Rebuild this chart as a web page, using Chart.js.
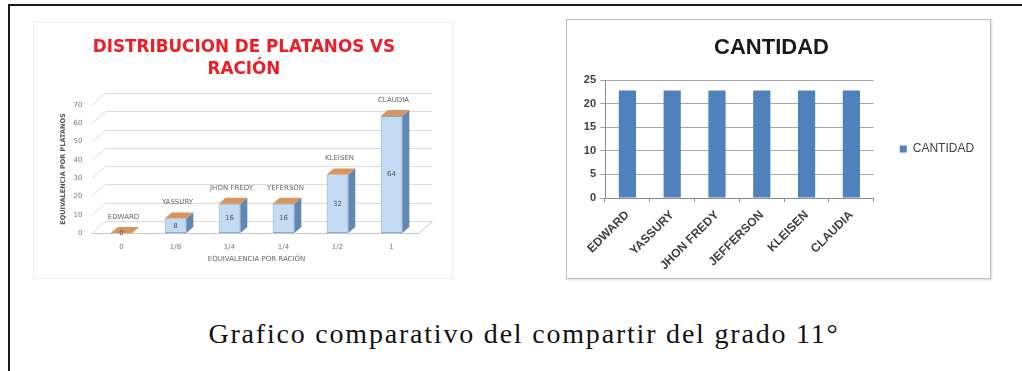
<!DOCTYPE html>
<html>
<head>
<meta charset="utf-8">
<script src="https://cdn.jsdelivr.net/npm/chart.js@4/dist/chart.umd.min.js"></script>
<style>
  html, body { margin: 0; padding: 0; background: #fff; width: 1022px; height: 371px; overflow: hidden; }
  #frame { position: absolute; left: 8px; top: 4px; width: 1100px; height: 400px;
           border-top: 2px solid #1a1a1a; border-left: 2px solid #1a1a1a; }
  #leftBox { position: absolute; left: 33px; top: 22px; width: 418px; height: 255px; border: 1px solid #eeeeee; }
  #leftWrap { position: absolute; left: 33px; top: 15px; width: 422px; height: 263px; filter: blur(0.6px); }
  #rightBox { position: absolute; left: 566px; top: 19px; width: 423px; height: 258px;
              border: 1px solid #bdbdbd; box-shadow: 1px 1px 2px rgba(0,0,0,0.15); }
  #rightWrap { position: absolute; left: 567px; top: 20px; width: 423px; height: 258px; filter: blur(0.3px); }
  canvas { display: block; }
  #caption { position: absolute; left: 0; top: 318px; width: 1048px; text-align: center;
             font-family: "Liberation Serif", serif; font-size: 28px; line-height: 32px;
             letter-spacing: 1.8px; color: #111; }
</style>
</head>
<body>
<div id="frame"></div>
<div id="leftBox"></div>
<div id="leftWrap"><canvas id="racion" width="422" height="263"></canvas></div>
<div id="rightBox"></div>
<div id="rightWrap"><canvas id="cantidad" width="423" height="258"></canvas></div>
<div id="caption">Grafico comparativo del compartir del grado 11°</div>

<script>
// Platanos por ración
const racionLabels = ['0', '1/8', '1/4', '1/4', '1/2', '1'];
const alumnos = ['EDWARD', 'YASSURY', 'JHON FREDY', 'YEFERSON', 'KLEISEN', 'CLAUDIA'];
const platanos = [0, 8, 16, 16, 32, 64];
const platanosTicks = [0, 10, 20, 30, 40, 50, 60, 70];

// Cantidad por estudiante
const nombres = ['EDWARD', 'YASSURY', 'JHON FREDY', 'JEFFERSON', 'KLEISEN', 'CLAUDIA'];
const cantidad = [22.8, 22.8, 22.8, 22.8, 22.8, 22.8];
const cantidadTicks = [0, 5, 10, 15, 20, 25];

// depth of the back wall and of each bar in the pseudo-3D chart
const WALL_DX = 14, WALL_DY = 12;
const BAR_DX = 7, BAR_DY = 6;

const smallFont = 'DejaVu Sans';

// back wall grid + floor drawn from the y scale ticks
const wall3d = {
  id: 'wall3d',
  beforeDatasetsDraw(chart) {
    const { ctx, chartArea: a, scales: { y } } = chart;
    const x0 = a.left - 3;
    ctx.save();
    ctx.lineWidth = 1;
    ctx.strokeStyle = '#dcdcdc';
    y.ticks.forEach(t => {
      const py = Math.round(y.getPixelForValue(t.value)) + 0.5;
      ctx.beginPath();
      ctx.moveTo(x0, py);
      ctx.lineTo(x0 + WALL_DX, py - WALL_DY);
      ctx.lineTo(a.right + WALL_DX, py - WALL_DY);
      ctx.stroke();
    });
    const fy = Math.round(y.getPixelForValue(0)) + 0.5;
    ctx.strokeStyle = '#c8c8c8';
    ctx.beginPath();
    ctx.moveTo(x0, fy);
    ctx.lineTo(a.right, fy);
    ctx.lineTo(a.right + WALL_DX, fy - WALL_DY);
    ctx.stroke();
    ctx.restore();
  }
};

// side/top faces and labels for each bar element
const bars3d = {
  id: 'bars3d',
  afterDatasetsDraw(chart) {
    const { ctx } = chart;
    const meta = chart.getDatasetMeta(0);
    ctx.save();
    meta.data.forEach((bar, i) => {
      const { x, y, base, width } = bar.getProps(['x', 'y', 'base', 'width'], true);
      const l = x - width / 2, r = x + width / 2;
      // side face
      ctx.fillStyle = '#6287b0';
      ctx.beginPath();
      ctx.moveTo(r, y);
      ctx.lineTo(r + BAR_DX, y - BAR_DY);
      ctx.lineTo(r + BAR_DX, base - BAR_DY);
      ctx.lineTo(r, base);
      ctx.closePath();
      ctx.fill();
      // top face
      ctx.fillStyle = '#d8955f';
      ctx.beginPath();
      ctx.moveTo(l, y);
      ctx.lineTo(l + BAR_DX, y - BAR_DY);
      ctx.lineTo(r + BAR_DX, y - BAR_DY);
      ctx.lineTo(r, y);
      ctx.closePath();
      ctx.fill();
      // value on the bar, name above it
      ctx.textAlign = 'center';
      ctx.textBaseline = 'middle';
      ctx.font = '7px "' + smallFont + '"';
      ctx.fillStyle = '#555';
      ctx.fillText(String(platanos[i]), x, (y + base) / 2);
      ctx.fillStyle = '#666';
      ctx.fillText(alumnos[i], x + 2, y - BAR_DY - 10);
    });
    ctx.restore();
  }
};

new Chart(document.getElementById('racion'), {
  type: 'bar',
  data: {
    labels: racionLabels,
    datasets: [{
      data: platanos,
      backgroundColor: '#c4dbf3',
      borderColor: '#86acd4',
      borderWidth: 1,
      borderSkipped: false,
      categoryPercentage: 0.8,
      barPercentage: 0.5
    }]
  },
  options: {
    responsive: false,
    animation: false,
    layout: { padding: { left: 36.5, right: 36.5, top: 0, bottom: 0 } },
    plugins: {
      legend: { display: false },
      tooltip: { enabled: false },
      title: {
        display: true,
        text: ['DISTRIBUCION DE PLATANOS VS', 'RACIÓN'],
        color: '#ee1c25',
        font: { family: 'DejaVu Sans', size: 16.8, weight: 'bold', lineHeight: 1.3 },
        padding: { top: 22, bottom: 24.4 }
      }
    },
    scales: {
      x: {
        grid: { display: false, drawTicks: false },
        border: { display: false },
        ticks: { color: '#777', font: { family: smallFont, size: 7 }, padding: 10, maxRotation: 0 },
        title: { display: true, text: 'EQUIVALENCIA POR RACIÓN', color: '#666',
                 font: { family: smallFont, size: 7 }, padding: { top: 0, bottom: 14.8 } },
        afterFit(s) { s.height = 45; }
      },
      y: {
        min: 0, max: 70,
        afterBuildTicks(s) { s.ticks = platanosTicks.map(v => ({ value: v })); },
        grid: { display: false, drawTicks: false },
        border: { display: false },
        ticks: { color: '#777', font: { family: smallFont, size: 7 }, padding: 12 },
        title: { display: true, text: 'EQUIVALENCIA POR PLATANOS', color: '#555',
                 font: { family: smallFont, size: 6.5, weight: 'bold' }, padding: { top: -10.4 } },
        afterFit(s) { s.width = 25; }
      }
    }
  },
  plugins: [wall3d, bars3d]
});

new Chart(document.getElementById('cantidad'), {
  type: 'bar',
  data: {
    labels: nombres,
    datasets: [{
      label: 'CANTIDAD',
      data: cantidad,
      backgroundColor: '#4f81bd',
      borderWidth: 0,
      categoryPercentage: 0.8,
      barPercentage: 0.48
    }]
  },
  options: {
    responsive: false,
    animation: false,
    layout: { padding: { left: 0, right: 14, top: 0, bottom: 0 } },
    plugins: {
      tooltip: { enabled: false },
      legend: {
        position: 'right',
        labels: { boxWidth: 7, boxHeight: 7, color: '#404040',
                  font: { family: 'Liberation Sans', size: 12 }, padding: 26 }
      },
      title: {
        display: true,
        text: 'CANTIDAD',
        color: '#1a1a1a',
        font: { family: 'Liberation Sans', size: 22, weight: 'bold', lineHeight: 1.2 },
        padding: { top: 15, bottom: 18.8 }
      }
    },
    scales: {
      x: {
        grid: { drawOnChartArea: false, color: '#8c8c8c', tickLength: 4 },
        border: { color: '#8c8c8c' },
        ticks: { minRotation: 45, maxRotation: 45, color: '#404040', padding: 6,
                 font: { family: 'Liberation Sans', size: 12, weight: 'bold' } },
        afterFit(s) { s.height = 80; }
      },
      y: {
        min: 0, max: 25,
        afterBuildTicks(s) { s.ticks = cantidadTicks.map(v => ({ value: v })); },
        grid: { color: '#a6a6a6', tickLength: 5 },
        border: { color: '#8c8c8c' },
        ticks: { color: '#404040', padding: 4, font: { family: 'Liberation Sans', size: 11, weight: 'bold' } },
        afterFit(s) { s.width = 38; }
      }
    }
  }
});
</script>
</body>
</html>
